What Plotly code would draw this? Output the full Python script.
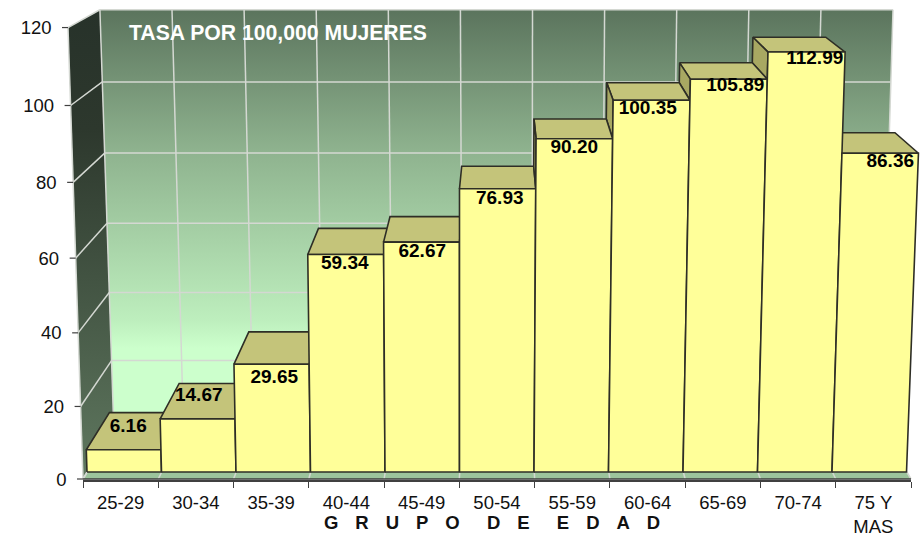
import plotly.graph_objects as go

# ---- data ----
CATEGORIES = ["25-29", "30-34", "35-39", "40-44", "45-49", "50-54", "55-59",
              "60-64", "65-69", "70-74", "75 Y<br>MAS"]
TASAS = [6.16, 14.67, 29.65, 59.34, 62.67, 76.93, 90.20, 100.35, 105.89, 112.99, 86.36]
Y_TICKS = [0, 20, 40, 60, 80, 100, 120]
TITLE_TEXT = "TASA POR 100,000 MUJERES"
_gap = "\u00a0\u00a0\u00a0\u200a"
_word = _gap + "\u00a0\u00a0"
XAXIS_TEXT = _word.join(_gap.join(w) for w in ["GRUPO", "DE", "EDAD"])

# placement of the value labels relative to the bar top (not data)
LABEL_DX = [4, 0, 1, -3, 0, 3, 3, 2, 15, 20, 21]
LABEL_DY = [-22, -23, 14, 10, 10.5, 10, 9, 9, 7, 7, 9]

W, H = 921, 533
FONT = "Liberation Sans, Arial, sans-serif"
DARK = "#2e2e26"
GRID = "#d4d8d2"

# ---- 3D-look projection ----
VP = (499.0, -213.0)     # vanishing point
WALL_DEPTH = 0.074
TOP_DEPTH = 0.056
BAR_X0, BAR_STEP, BAR_Y0 = 87.0, 74.5, 472.0
PX_PER_UNIT = 3.717


def to_axis(px, py):
    return (px - BAR_X0) / BAR_STEP, (BAR_Y0 - py) / PX_PER_UNIT


def toward_vp(p, f):
    return (p[0] + f * (VP[0] - p[0]), p[1] + f * (VP[1] - p[1]))


def bar_front(edge, v):
    """Front-plane point of bar edge `edge` at value v."""
    h = 3.607 * v + 0.00097 * v * v
    x = BAR_X0 + BAR_STEP * edge
    return (460 + (x - 460) * (1 + 8.4e-5 * h), BAR_Y0 - h)


def tick_y(v):
    return 479 - 3.6 * v - 0.00135 * v * v


def wall_left(v):
    y = tick_y(v)
    return (83 - 15 * (479 - y) / 451.5, y)


def wall_right(v):
    y = tick_y(v)
    return (911 + 13.5 * (479 - y) / 451.5, y)


fig = go.Figure()


def poly(points, fill=None, line=None, width=1.6, gradient=None):
    pts = [to_axis(*p) for p in points]
    xs = [p[0] for p in pts] + [pts[0][0]]
    ys = [p[1] for p in pts] + [pts[0][1]]
    kw = dict(x=xs, y=ys, mode="lines", fill="toself", hoverinfo="skip", showlegend=False,
              line=dict(color=line or "rgba(0,0,0,0)", width=width))
    if gradient:
        kw["fillgradient"] = dict(type="vertical", colorscale=gradient)
    else:
        kw["fillcolor"] = fill
    fig.add_trace(go.Scatter(**kw))


def lines(segments, color, width):
    xs, ys = [], []
    for a, b in segments:
        ax, ay = to_axis(*a)
        bx, by = to_axis(*b)
        xs += [ax, bx, None]
        ys += [ay, by, None]
    fig.add_trace(go.Scatter(x=xs, y=ys, mode="lines", hoverinfo="skip", showlegend=False,
                             line=dict(color=color, width=width)))


# ---- walls and floor ----
bl_top = toward_vp(wall_left(120), WALL_DEPTH)
br_top = toward_vp(wall_right(120), WALL_DEPTH)
bl_bot = toward_vp(wall_left(0), WALL_DEPTH)
br_bot = toward_vp(wall_right(0), WALL_DEPTH)

poly([bl_top, br_top, br_bot, bl_bot],
     gradient=[[0, "#ccffcc"], [0.19, "#ccffcc"], [0.26, "#bdeebd"], [0.666, "#8eb28e"],
               [1, "#5b745d"]])
poly([wall_left(120), bl_top, bl_bot, wall_left(0)],
     gradient=[[0, "#5f785f"], [0.745, "#2d382d"], [1, "#27322a"]])
poly([wall_left(0), wall_right(0), br_bot, bl_bot], fill="#9cc49c")

# ---- grid ----
segs = []
for v in Y_TICKS:
    segs.append((toward_vp(wall_left(v), WALL_DEPTH), toward_vp(wall_right(v), WALL_DEPTH)))
    segs.append((wall_left(v), toward_vp(wall_left(v), WALL_DEPTH)))
n = len(CATEGORIES)
for i in range(n + 1):
    t = i / n
    top = (bl_top[0] + t * (br_top[0] - bl_top[0]), bl_top[1])
    bot = (bl_bot[0] + t * (br_bot[0] - bl_bot[0]), bl_bot[1])
    segs.append((top, bot))
    fr = (83 + t * 828, 479)
    segs.append((fr, bot))
segs.append((wall_left(0), wall_left(120)))
lines(segs, GRID, 1.5)

# ---- bars ----
order = [i for i in range(n) if bar_front(i, 0)[0] < VP[0]]
order += [i for i in range(n - 1, -1, -1) if bar_front(i, 0)[0] >= VP[0]]
for i in order:
    v = TASAS[i]
    fl, fr = bar_front(i, v), bar_front(i + 1, v)
    poly([fl, fr, toward_vp(fr, TOP_DEPTH), toward_vp(fl, TOP_DEPTH)], "#c4c47a", DARK)
    if i > 0 and fl[0] > VP[0] and v > TASAS[i - 1]:
        low = bar_front(i, TASAS[i - 1])
        poly([fl, toward_vp(fl, TOP_DEPTH), toward_vp(low, TOP_DEPTH), low], "#a8a862", DARK)
for i in range(n):
    v = TASAS[i]
    poly([bar_front(i, 0), bar_front(i + 1, 0), bar_front(i + 1, v), bar_front(i, v)],
         "#ffff99", DARK)

# ---- floor front line ----
lines([(wall_left(0), wall_right(0))], "#3c3c3c", 1.5)

# ---- value labels ----
lx, ly, lt = [], [], []
for i, v in enumerate(TASAS):
    px = BAR_X0 + BAR_STEP * (i + 0.5) + LABEL_DX[i]
    py = bar_front(i, v)[1] + LABEL_DY[i]
    ax, ay = to_axis(px, py)
    lx.append(ax)
    ly.append(ay)
    lt.append(f"<b>{v:.2f}</b>")
fig.add_trace(go.Scatter(x=lx, y=ly, text=lt, mode="text", textposition="middle center",
                         hoverinfo="skip", showlegend=False,
                         textfont=dict(family=FONT, size=19, color="#000000")))

# ---- y axis ticks and labels (slanted front edge) ----
tseg, tx, ty, tt = [], [], [], []
for v in Y_TICKS:
    p = wall_left(v)
    tseg.append((p, (p[0] - 6, p[1])))
    ax, ay = to_axis(p[0] - 16.5, p[1] + 2)
    tx.append(ax)
    ty.append(ay)
    tt.append(str(v))
lines(tseg, "#404040", 1.2)
fig.add_trace(go.Scatter(x=tx, y=ty, text=tt, mode="text", textposition="middle left",
                         hoverinfo="skip", showlegend=False,
                         textfont=dict(family=FONT, size=18.5, color="#111111")))

# ---- category axis carrier ----
fig.add_trace(go.Bar(x=CATEGORIES, y=TASAS, xaxis="x2", yaxis="y2", marker=dict(opacity=0),
                     hoverinfo="skip", showlegend=False))

xr = [(0 - BAR_X0) / BAR_STEP, (W - BAR_X0) / BAR_STEP]
yr = [(BAR_Y0 - H) / PX_PER_UNIT, BAR_Y0 / PX_PER_UNIT]
fig.update_layout(
    width=W, height=H, margin=dict(l=0, r=0, t=0, b=0, autoexpand=False), autosize=False,
    paper_bgcolor="white", plot_bgcolor="rgba(0,0,0,0)", showlegend=False,
    xaxis=dict(visible=False, range=xr, domain=[0, 1], fixedrange=True),
    yaxis=dict(visible=False, range=yr, domain=[0, 1], fixedrange=True),
    xaxis2=dict(anchor="y2", type="category", categoryorder="array", categoryarray=CATEGORIES,
                domain=[83 / W, 911 / W], range=[-0.5, 10.5], tickson="boundaries",
                ticks="outside", ticklen=6, tickwidth=1.2, tickcolor="#404040", tickangle=0,
                ticklabelstandoff=5, automargin=False,
                showline=True, linecolor="#404040", linewidth=1.5, showgrid=False,
                tickfont=dict(family=FONT, size=18.5, color="#111111"), fixedrange=True),
    yaxis2=dict(anchor="x2", visible=False, range=[0, 120],
                domain=[(H - 480) / H, (H - 28) / H], fixedrange=True),
    annotations=[
        dict(text=f"<b>{TITLE_TEXT}</b>", xref="paper", yref="paper", x=127 / W, y=1 - 33 / H,
             xanchor="left", yanchor="middle", showarrow=False,
             font=dict(family=FONT, size=21.2, color="#ffffff")),
        dict(text=f"<b>{XAXIS_TEXT}</b>", xref="paper", yref="paper", x=492 / W, y=1 - 522 / H,
             xanchor="center", yanchor="middle", showarrow=False,
             font=dict(family=FONT, size=18.5, color="#111111")),
    ],
)
fig.write_html("out.html", config={"displayModeBar": False},
               post_script="document.body.style.margin='0';")
